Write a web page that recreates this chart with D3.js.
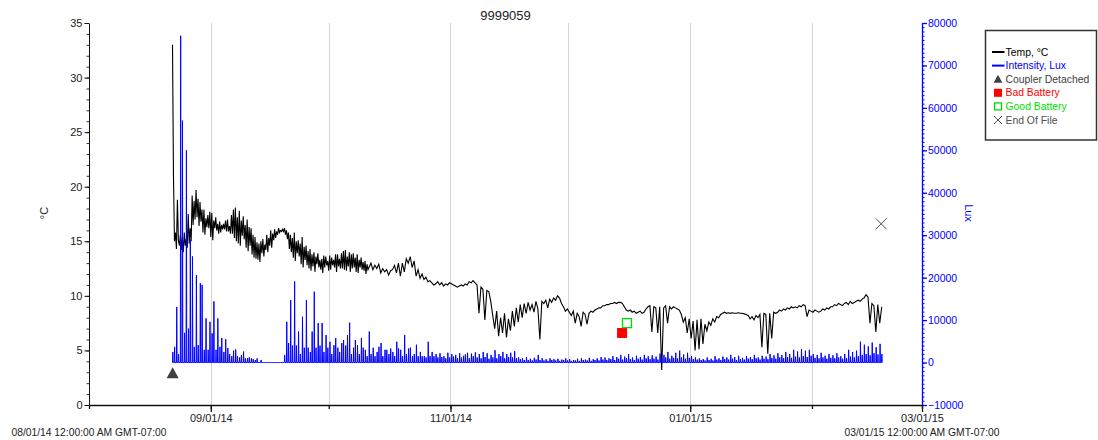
<!DOCTYPE html>
<html>
<head>
<meta charset="utf-8">
<script src="https://cdn.jsdelivr.net/npm/d3@7"></script>
<style>
  body { margin: 0; background: #fff; }
  svg { display: block; font-family: "Liberation Sans", Arial, sans-serif; }
</style>
</head>
<body>
<svg id="chart" width="1098" height="440"></svg>
<script>
// ---- data ---------------------------------------------------------------
const chartTitle = "9999059";
const axisStart = "2014-08-01T00:00:00Z";
const axisEnd = "2015-03-01T00:00:00Z";
const axisStartLabel = "08/01/14 12:00:00 AM GMT-07:00";
const axisEndLabel = "03/01/15 12:00:00 AM GMT-07:00";

const tempTickLabels = [0, 5, 10, 15, 20, 25, 30, 35];
const luxTickLabels = [-10000, 0, 10000, 20000, 30000, 40000, 50000, 60000, 70000, 80000];
const monthTickLabels = ["09/01/14", "11/01/14", "01/01/15", "03/01/15"];

// temperature, °C — first part of the record, one reading every 6 hours
const tempEarlyStart = "2014-08-22T06:00:00Z";
const tempEarlyStepHours = 6;
const tempEarly = [
  33, 21, 15.0, 15.8,   14.3, 18.8, 15.1, 14.6,   15.6, 14.2, 15.4, 14.0,   15.8, 14.6, 15.2, 14.4,
  17.5, 14.8, 16.2, 15.0,   19.2, 16.5, 18.7, 17.0,   19.7, 17.2, 18.9, 16.4,   18.6, 16.8, 17.9, 15.8,
  17.9, 15.6, 17.1, 16.3,   17.4, 16.2, 17.7, 15.4,   17.6, 15.1, 16.9, 16.2,   17.2, 16.0, 16.6, 15.7,
  16.8, 15.8, 16.5, 16.1,   16.6, 16.1, 16.9, 15.9,   17.0, 15.9, 16.4, 15.7,   17.4, 15.7, 17.9, 15.3,
  18.1, 15.0, 17.2, 14.8,   17.8, 14.6, 16.9, 15.5,   17.3, 15.2, 16.5, 14.4,   17.0, 14.1, 16.3, 14.6,
  16.2, 13.8, 15.6, 13.5,   15.4, 13.4, 14.9, 13.3,   14.8, 13.1, 15.0, 13.9,   15.2, 13.6, 14.7, 14.2,
  15.6, 14.0, 15.3, 14.6,   16.0, 14.4, 15.7, 15.1,   16.1, 15.3, 15.9, 15.6,   16.2, 15.8, 16.0, 15.9,
  16.1, 15.9, 16.2, 15.6,   16.0, 15.2, 15.8, 14.3,   15.6, 14.0, 15.3, 13.5,   15.8, 13.2, 15.0, 13.9,
  15.1, 13.6, 14.8, 12.9,   15.4, 12.6, 14.5, 13.3,   14.6, 12.8, 14.1, 12.5,   14.3, 12.3, 13.8, 12.7,
  14.0, 12.2, 13.6, 12.9,   13.9, 12.6, 13.3, 12.4,   13.4, 12.1, 13.7, 12.6,   13.6, 12.8, 13.2, 12.3,
  13.7, 12.4, 13.5, 12.8,   13.3, 12.6, 13.8, 12.2,   13.8, 12.7, 13.4, 12.5,   13.9, 12.5, 14.1, 12.4,
  14.2, 12.3, 13.6, 12.7,   14.0, 12.2, 13.8, 12.5,   13.9, 12.6, 13.5, 12.2,   13.8, 12.1, 13.3, 12.6,
  13.5, 12.4, 13.1, 12.3,   13.2, 12.0, 12.9, 12.4
];

// temperature, °C — remainder of the record, one reading every 12 hours
const tempLateStart = "2014-10-11T06:00:00Z";
const tempLateStepHours = 12;
const tempLate = [
  12.6, 13.0, 12.4, 12.8, 12.5, 12.9, 12.1, 12.5, 12.2, 12.4,
  11.9, 12.3, 12.4, 12.8, 12.1, 13.0, 11.8, 13.0, 12.2, 13.4,
  13.0, 13.6, 12.6, 13.2, 11.8, 12.4, 11.6, 12.0, 11.5, 11.7,
  11.3, 11.4, 11.2, 11.0, 11.1, 11.3, 11.0, 11.2, 10.9, 11.1,
  11.0, 11.2, 11.1, 11.0, 10.9, 10.8, 10.9, 11.0, 10.9, 11.1,
  11.0, 11.3, 11.2, 11.4, 11.2, 11.0, 8.4, 10.8, 10.6, 7.8,
  10.5, 10.4, 9.5, 8.2, 7.0, 8.6, 6.3, 8.0, 6.6, 8.4,
  6.2, 7.9, 6.8, 8.6, 7.2, 8.9, 7.6, 9.2, 8.0, 9.3,
  8.4, 9.4, 8.7, 9.2, 8.5, 9.5, 8.8, 6.0, 9.5, 9.3,
  9.6, 8.9, 9.7, 9.4, 9.8, 9.6, 10.0, 9.8, 9.3, 9.0,
  8.6, 8.8, 8.5, 8.2, 8.6, 7.5, 8.4, 8.1, 7.2, 8.5,
  8.3, 7.4, 8.4, 8.6, 8.5, 8.7, 8.8, 8.9, 8.9, 9.1,
  9.1, 9.2, 9.2, 9.3, 9.3, 9.4, 9.3, 9.4, 9.4, 9.3,
  9.0, 8.7, 8.6, 8.7, 8.5, 8.6, 8.4, 8.5, 8.6, 8.4,
  8.5, 8.8, 9.0, 9.1, 6.7, 9.0, 8.9, 6.6, 9.0, 3.2,
  8.9, 9.1, 7.5, 9.0, 8.8, 9.0, 8.9, 8.8, 8.7, 8.3,
  7.6, 8.0, 6.6, 7.9, 6.1, 7.7, 5.0, 7.8, 5.1, 7.9,
  5.6, 7.4, 6.8, 7.6, 7.3, 7.9, 7.6, 8.1, 8.0, 8.3,
  8.4, 8.5, 8.4, 8.45, 8.4, 8.45, 8.4, 8.4, 8.45, 8.4,
  8.4, 8.35, 8.3, 8.2, 7.9, 8.1, 7.8, 8.2, 8.0, 8.3,
  5.3, 8.4, 8.3, 4.7, 8.4, 6.1, 8.5, 8.4, 8.5, 8.7,
  8.6, 8.8, 8.7, 8.9, 8.8, 9.0, 8.9, 9.0, 8.9, 9.1,
  9.0, 9.2, 9.1, 8.1, 8.7, 8.6, 8.5, 8.7, 8.6, 8.5,
  8.6, 8.8, 8.7, 8.9, 8.8, 9.0, 9.0, 9.2, 9.1, 9.3,
  9.2, 9.1, 9.3, 9.4, 9.2, 9.5, 9.3, 9.4, 9.5, 9.6,
  9.5, 9.7, 9.8, 10.1, 9.9, 7.5, 9.3, 9.1, 6.7, 9.2,
  7.5, 9.0
];

// light intensity, lux — two daylight readings per day, dark (0 lux) in between
const luxFirstDay = "2014-08-22T00:00:00Z";
const luxReadingHours = [8, 19];
const darkLux = 0;
const luxDaily = [
  [2500,3700],[13100,2000],[77000,57000],[7000,50000],[8000,29000],[25000,3700],[20600,4100],[18700,18300],[3000,10400],[3000,9600],
  [6900,14400],[3000,10400],[3700,5800],[2500,5500],[3400,2000],[1500,2800],[3100,1500],[1200,1800],[2600,1000],[1000,1200],
  [1000,800],[600,1000],[0,600],[0,0],[0,0],[0,0],[0,0],[0,0],[0,1800],[9600,4600],
  [14700,4000],[19100,4000],[7300,2000],[10800,3500],[14700,3500],[2500,7300],[16700,3500],[9300,4000],[9300,2500],[6500,3500],
  [4900,2000],[4100,5800],[3500,2500],[4600,5300],[4000,6500],[9400,2000],[3500,5300],[4100,2000],[5800,3500],[3000,1500],
  [7300,2000],[3500,1500],[2500,3700],[4600,1500],[3000,3000],[2000,3300],[2500,1500],[4900,3300],[3000,1500],[6500,2000],
  [3300,3500],[1500,2000],[4200,1500],[2500,1500],[1500,1200],[4900,1500],[2500,1500],[2000,1200],[2200,1300],[1500,1000],
  [2300,1200],[2000,1400],[1800,1000],[2200,1200],[1600,1900],[2300,1000],[2100,1500],[2400,1200],[2000,1000],[2500,1300],
  [2200,900],[1800,1200],[2900,1000],[2000,1500],[2500,1000],[2000,1300],[2300,1200],[2700,1000],[1200,800],[1000,600],
  [1300,600],[900,500],[1100,700],[1800,600],[1000,500],[800,400],[1000,600],[800,500],[900,400],[700,600],
  [1000,500],[800,400],[600,500],[900,400],[1000,600],[700,500],[1100,400],[800,600],[1000,500],[1300,700],
  [1200,600],[1000,800],[1500,600],[1300,900],[1800,700],[1400,1000],[2000,800],[1200,600],[1600,900],[1300,700],
  [1800,1000],[1500,800],[1700,900],[1400,700],[2100,1000],[1800,1200],[2500,900],[1600,1100],[2300,1000],[2800,1200],
  [1900,900],[2300,1100],[1500,800],[1200,700],[1000,600],[800,500],[1200,600],[900,500],[1500,700],[1000,600],
  [1400,800],[1200,700],[1800,900],[1300,600],[1600,800],[1100,700],[1500,900],[1300,800],[1800,1000],[1200,700],
  [1600,900],[1400,800],[2000,1100],[1700,900],[2200,1200],[1800,1000],[2500,1300],[2000,1100],[3000,1400],[2600,1200],
  [3200,1500],[2800,1300],[3000,1600],[2000,1100],[1800,1000],[2300,1200],[1600,900],[2000,1100],[1700,1000],[2200,1200],
  [1500,900],[2000,1000],[3000,1400],[2500,1200],[2800,1500],[4900,1800],[4200,2000],[3800,1700],[4700,2200],[3600,1900],
  [4400,2000]
];

// logger events, plotted on the temperature scale
const eventNames = ["Coupler Detached", "Bad Battery", "Good Battery", "End Of File"];
const eventTimes = ["2014-08-22T07:00:00Z", "2014-12-14T16:00:00Z", "2014-12-15T22:00:00Z", "2015-02-18T15:00:00Z"];
const eventTemps = [2.9, 6.6, 7.5, 16.6];

// ---- layout & scales ----------------------------------------------------
const plot = { left: 89, right: 922, top: 23, bottom: 405 };
const svg = d3.select("#chart");

const x = d3.scaleUtc()
  .domain([new Date(axisStart), new Date(axisEnd)])
  .range([plot.left, plot.right]);
const yT = d3.scaleLinear()
  .domain(d3.extent(tempTickLabels))
  .range([plot.bottom, plot.top]);
const yL = d3.scaleLinear()
  .domain(d3.extent(luxTickLabels))
  .range([plot.bottom, plot.top]);

const fmtDate = d3.utcFormat("%m/%d/%y");
const months = d3.utcMonth.range(new Date(axisStart), d3.utcDay.offset(new Date(axisEnd), 1));
const labelledMonths = months.filter(m => monthTickLabels.includes(fmtDate(m)));

// ---- series -------------------------------------------------------------
const readings = (start, stepHours, values) => values.map((v, i) => ({
  t: d3.utcHour.offset(new Date(start), i * stepHours),
  v
}));
const tempSeries = readings(tempEarlyStart, tempEarlyStepHours, tempEarly)
  .concat(readings(tempLateStart, tempLateStepHours, tempLate));

const luxSeries = [];
luxDaily.forEach((pair, k) => {
  const day = d3.utcDay.offset(new Date(luxFirstDay), k);
  pair.forEach((v, j) => {
    const h = luxReadingHours[j];
    luxSeries.push({ t: d3.utcHour.offset(day, h - 2), v: darkLux });
    luxSeries.push({ t: d3.utcHour.offset(day, h), v });
    luxSeries.push({ t: d3.utcHour.offset(day, h + 2), v: darkLux });
  });
});

// ---- grid ---------------------------------------------------------------
svg.append("g").selectAll("line")
  .data(months.filter(m => +m > +x.domain()[0] && +m < +x.domain()[1]))
  .join("line")
  .attr("x1", d => Math.round(x(d)) + 0.5).attr("x2", d => Math.round(x(d)) + 0.5)
  .attr("y1", plot.top).attr("y2", plot.bottom)
  .attr("stroke", "#d4d4d4").attr("stroke-width", 1);

// ---- lines --------------------------------------------------------------
svg.append("path")
  .datum(tempSeries)
  .attr("fill", "none").attr("stroke", "#000").attr("stroke-width", 1.1)
  .attr("d", d3.line().x(d => x(d.t)).y(d => yT(d.v)));

svg.append("path")
  .datum(luxSeries)
  .attr("fill", "none").attr("stroke", "#0000ff").attr("stroke-width", 1)
  .attr("d", d3.line().x(d => x(d.t)).y(d => yL(d.v)));

// ---- axes ---------------------------------------------------------------
const axisFont = g => g.selectAll("text")
  .attr("font-family", "Liberation Sans, Arial, sans-serif")
  .attr("font-size", 11);

// left: temperature
svg.append("g").attr("transform", `translate(${plot.left},0)`)
  .call(d3.axisLeft(yT).tickValues(d3.range(0, 36, 1)).tickSize(2.5).tickSizeOuter(0).tickFormat(""))
  .call(g => g.select(".domain").remove())
  .call(g => g.selectAll("line").attr("stroke", "#333"));
svg.append("g").attr("transform", `translate(${plot.left},0)`)
  .call(d3.axisLeft(yT).tickValues(tempTickLabels).tickSize(4.5).tickSizeOuter(0).tickPadding(2))
  .call(axisFont)
  .call(g => g.selectAll("text").attr("fill", "#222"))
  .call(g => g.selectAll("line, .domain").attr("stroke", "#111"));

// right: lux
svg.append("g").attr("transform", `translate(${plot.right},0)`)
  .call(d3.axisRight(yL).tickValues(d3.range(-10000, 80001, 1000)).tickSize(2.5).tickSizeOuter(0).tickFormat(""))
  .call(g => g.select(".domain").remove())
  .call(g => g.selectAll("line").attr("stroke", "#0000ff"));
svg.append("g").attr("transform", `translate(${plot.right},0)`)
  .call(d3.axisRight(yL).tickValues(luxTickLabels).tickSize(5).tickSizeOuter(0).tickPadding(1).tickFormat(d3.format("d")))
  .call(g => g.selectAll("text").attr("font-size", 10.5).attr("fill", "#0000ff")
    .attr("font-family", "Liberation Sans, Arial, sans-serif"))
  .call(g => g.selectAll("line, .domain").attr("stroke", "#0000ff").attr("stroke-width", 1.3));

// bottom: dates
svg.append("g").attr("transform", `translate(0,${plot.bottom})`)
  .call(d3.axisBottom(x).tickValues(months).tickSize(4).tickSizeOuter(0).tickFormat(""))
  .call(g => g.selectAll("line, .domain").attr("stroke", "#111").attr("stroke-width", 1.3));
svg.append("g").attr("transform", `translate(0,${plot.bottom})`)
  .call(d3.axisBottom(x).tickValues(labelledMonths).tickSize(7).tickSizeOuter(0).tickPadding(2).tickFormat(fmtDate))
  .call(axisFont)
  .call(g => g.selectAll("text").attr("fill", "#222"))
  .call(g => g.select(".domain").remove())
  .call(g => g.selectAll("line").attr("stroke", "#111").attr("stroke-width", 1.3));

// start / end stamps
svg.append("text").attr("x", x.range()[0]).attr("y", 436)
  .attr("text-anchor", "middle").attr("font-size", 10.3).attr("fill", "#222")
  .text(axisStartLabel);
svg.append("text").attr("x", x.range()[1]).attr("y", 436)
  .attr("text-anchor", "middle").attr("font-size", 10.3).attr("fill", "#222")
  .text(axisEndLabel);

// axis titles
svg.append("text").attr("transform", "translate(48,213) rotate(-90)")
  .attr("text-anchor", "middle").attr("font-size", 11).attr("fill", "#222")
  .text("°C");
svg.append("text").attr("transform", "translate(965,213) rotate(90)")
  .attr("text-anchor", "middle").attr("font-size", 11).attr("fill", "#0000ff")
  .text("Lux");

// title
svg.append("text").attr("x", (plot.left + plot.right) / 2).attr("y", 20)
  .attr("text-anchor", "middle").attr("font-size", 13).attr("fill", "#222")
  .text(chartTitle);

// ---- event markers ------------------------------------------------------
const eventStyle = {
  "Coupler Detached": { color: "#404040" },
  "Bad Battery": { color: "#ff0000" },
  "Good Battery": { color: "#00dd00" },
  "End Of File": { color: "#505050" }
};

function drawMarker(g, name, cx, cy, s) {
  const c = eventStyle[name].color;
  if (name === "Coupler Detached") {
    g.append("path")
      .attr("d", `M${cx},${cy - s * 0.55}L${cx + s * 0.55},${cy + s * 0.45}L${cx - s * 0.55},${cy + s * 0.45}Z`)
      .attr("fill", c);
  } else if (name === "Bad Battery") {
    g.append("rect").attr("x", cx - s / 2).attr("y", cy - s / 2)
      .attr("width", s).attr("height", s).attr("fill", c);
  } else if (name === "Good Battery") {
    g.append("rect").attr("x", cx - s / 2 + 0.5).attr("y", cy - s / 2 + 0.5)
      .attr("width", s - 1).attr("height", s - 1)
      .attr("fill", "#fff").attr("stroke", c).attr("stroke-width", 1.3);
  } else {
    const r = s / 2;
    g.append("path")
      .attr("d", `M${cx - r},${cy - r}L${cx + r},${cy + r}M${cx - r},${cy + r}L${cx + r},${cy - r}`)
      .attr("stroke", c).attr("stroke-width", 1).attr("fill", "none");
  }
}

const markerLayer = svg.append("g");
const markerSize = { "Coupler Detached": 11, "Bad Battery": 10, "Good Battery": 10, "End Of File": 11 };
eventNames.forEach((name, i) => {
  drawMarker(markerLayer, name, x(new Date(eventTimes[i])), yT(eventTemps[i]), markerSize[name]);
});

// ---- legend -------------------------------------------------------------
const legend = svg.append("g");
legend.append("rect")
  .attr("x", 985.5).attr("y", 30.5).attr("width", 111).attr("height", 109.5)
  .attr("fill", "#fff").attr("stroke", "#333").attr("stroke-width", 1.5);

const legendItems = [
  { label: "Temp, °C", kind: "line", color: "#000" },
  { label: "Intensity, Lux", kind: "line", color: "#0000ff" },
  ...eventNames.map(n => ({ label: n, kind: "marker", color: eventStyle[n].color }))
];
legendItems.forEach((it, i) => {
  const cy = 52 + i * 13.6;
  if (it.kind === "line") {
    legend.append("line").attr("x1", 992).attr("x2", 1004.5)
      .attr("y1", cy).attr("y2", cy)
      .attr("stroke", it.color).attr("stroke-width", 2);
  } else {
    drawMarker(legend, it.label, 998, cy, 8);
  }
  legend.append("text").attr("x", 1005.5).attr("y", cy + 3.6)
    .attr("font-size", 10.4).attr("fill", it.color)
    .text(it.label);
});
</script>
</body>
</html>
